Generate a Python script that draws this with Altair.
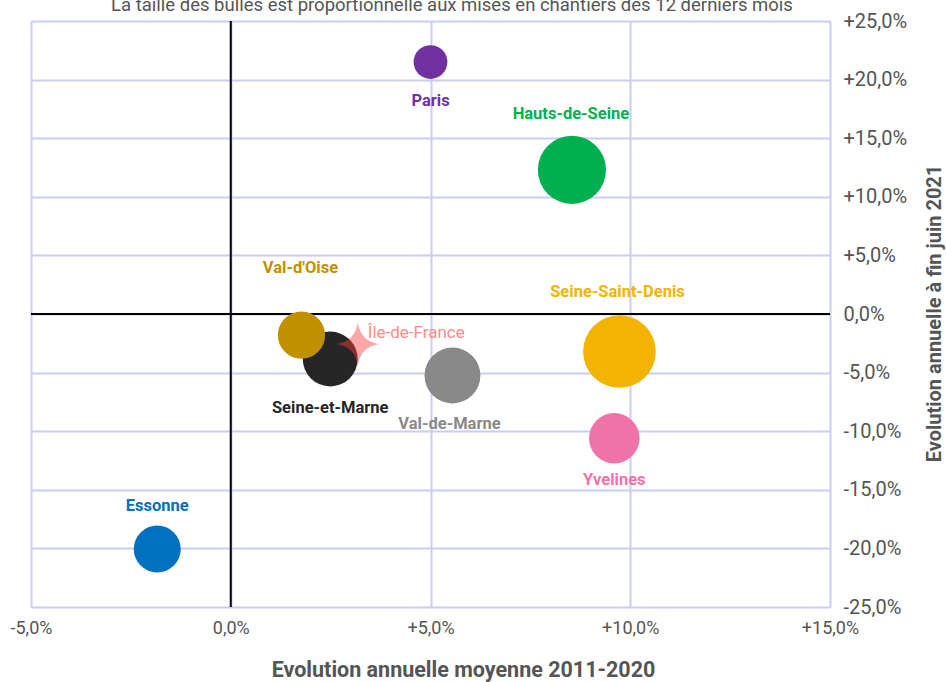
import altair as alt
import pandas as pd

# Départements d'Île-de-France
departements = ["Essonne", "Seine-et-Marne", "Val-d'Oise", "Paris",
                "Hauts-de-Seine", "Val-de-Marne", "Seine-Saint-Denis", "Yvelines"]
# Evolution annuelle moyenne 2011-2020 (%)
evol_2011_2020 = [-1.84, 2.49, 1.77, 5.00, 8.54, 5.55, 9.73, 9.60]
# Evolution annuelle à fin juin 2021 (%)
evol_juin_2021 = [-20.05, -3.84, -1.80, 21.5, 12.3, -5.25, -3.2, -10.6]
# Mises en chantier des 12 derniers mois (milliers de logements)
mises_chantier = [7.35, 10.05, 7.45, 3.8, 15.5, 10.4, 17.6, 8.5]

# Ensemble de la région
region = ["Île-de-France"]
region_evol_2011_2020 = [3.18]
region_evol_juin_2021 = [-2.56]

couleurs = ["#0070c0", "#262626", "#bf9000", "#7030a0",
            "#00b050", "#898989", "#f2b400", "#ef73a9"]
# décalage (dx, dy) des étiquettes par rapport au centre des bulles
decalages = {"Essonne": (0, -43), "Seine-et-Marne": (0, 49), "Val-d'Oise": (-1, -67),
             "Paris": (0, 39), "Hauts-de-Seine": (-1, -56), "Val-de-Marne": (-3, 48),
             "Seine-Saint-Denis": (-2, -60), "Yvelines": (0, 42)}

df = pd.DataFrame({"dep": departements, "x": evol_2011_2020,
                   "y": evol_juin_2021, "mises": mises_chantier})
df_region = pd.DataFrame({"dep": region, "x": region_evol_2011_2020,
                          "y": region_evol_juin_2021})

GRID = "#c9cdf1"
TXT = "#555555"
FONT = "Roboto"

pct = ("(datum.value > 0 ? '+' : datum.value < 0 ? '-' : '') + "
       "replace(format(abs(datum.value), '.1f'), '.', ',') + '%'")

x_scale = alt.Scale(domain=[-5, 15], nice=False, zero=False)
y_scale = alt.Scale(domain=[-25, 25], nice=False, zero=False)

x_enc = alt.X("x:Q", scale=x_scale, axis=alt.Axis(
    orient="bottom", values=[-5, 0, 5, 10, 15], labelExpr=pct,
    title="Evolution annuelle moyenne 2011-2020",
    grid=True, gridColor=GRID, gridWidth=2, domain=False, ticks=False,
    labelFont=FONT, labelFontSize=18, labelColor=TXT, labelPadding=12,
    labelFlush=False,
    titleFont=FONT, titleFontSize=21.5, titleFontWeight="bold", titleColor=TXT,
    titleX=432, titleY=63, titleBaseline="middle"))
y_enc = alt.Y("y:Q", scale=y_scale, axis=alt.Axis(
    orient="right", values=list(range(-25, 30, 5)), labelExpr=pct,
    title="Evolution annuelle à fin juin 2021",
    grid=True, gridColor=GRID, gridWidth=2, domain=False, ticks=False,
    labelFont=FONT, labelFontSize=20, labelColor=TXT, labelPadding=13,
    labelFlush=False,
    titleFont=FONT, titleFontSize=20, titleFontWeight="bold", titleColor=TXT,
    titleAngle=270, titleX=104, titleY=292, titleAlign="center",
    titleBaseline="middle"))

color_scale = alt.Scale(domain=departements, range=couleurs)

# axes du zéro
zero_v = alt.Chart(pd.DataFrame({"x": [0]})).mark_rule(
    color="black", strokeWidth=2).encode(x=alt.X("x:Q", scale=x_scale))
zero_h = alt.Chart(pd.DataFrame({"y": [0]})).mark_rule(
    color="black", strokeWidth=2).encode(y=alt.Y("y:Q", scale=y_scale))

bulles = alt.Chart(df).mark_circle(opacity=1).encode(
    x=x_enc, y=y_enc,
    size=alt.Size("mises:Q", scale=alt.Scale(domain=[0, 20], range=[0, 6000]),
                  legend=None),
    color=alt.Color("dep:N", scale=color_scale, legend=None),
)

etoile = "M0,-1 Q0.12,-0.12 1,0 Q0.12,0.12 0,1 Q-0.12,0.12 -1,0 Q-0.12,-0.12 0,-1 Z"
region_pt = alt.Chart(df_region).mark_point(
    shape=etoile, filled=True, size=1900, color="#ff3c3c", opacity=0.45,
    strokeWidth=0).encode(x=alt.X("x:Q", scale=x_scale), y=alt.Y("y:Q", scale=y_scale))
region_lbl = alt.Chart(df_region).mark_text(
    align="left", baseline="middle", dx=10, dy=-11, font=FONT, fontSize=17,
    color="#ff8a8a").encode(x=alt.X("x:Q", scale=x_scale),
                            y=alt.Y("y:Q", scale=y_scale), text="dep:N")

etiquettes = []
for dep, col in zip(departements, couleurs):
    dx, dy = decalages[dep]
    etiquettes.append(
        alt.Chart(df).transform_filter(alt.datum.dep == dep).mark_text(
            align="center", baseline="middle", dx=dx, dy=dy, font=FONT,
            fontSize=16.5, fontWeight="bold", color=col).encode(
            x=alt.X("x:Q", scale=x_scale), y=alt.Y("y:Q", scale=y_scale),
            text="dep:N"))

sous_titre = alt.Chart(pd.DataFrame({
    "t": ["La taille des bulles est proportionnelle aux mises en chantiers des 12 derniers mois"]
})).mark_text(align="center", baseline="alphabetic", font=FONT, fontSize=18.5,
              color=TXT).encode(x=alt.value(421), y=alt.value(-10), text="t:N")

chart = alt.layer(
    zero_v, zero_h, bulles, region_pt, region_lbl, *etiquettes, sous_titre
).properties(
    width=799, height=586,
    autosize=alt.AutoSizeParams(type="none"),
    padding={"left": 31, "top": 21, "right": 116, "bottom": 75},
).configure_view(stroke=GRID, strokeWidth=2).configure(background="white")

chart.save("out.html", embed_options={"renderer": "svg", "actions": False})
